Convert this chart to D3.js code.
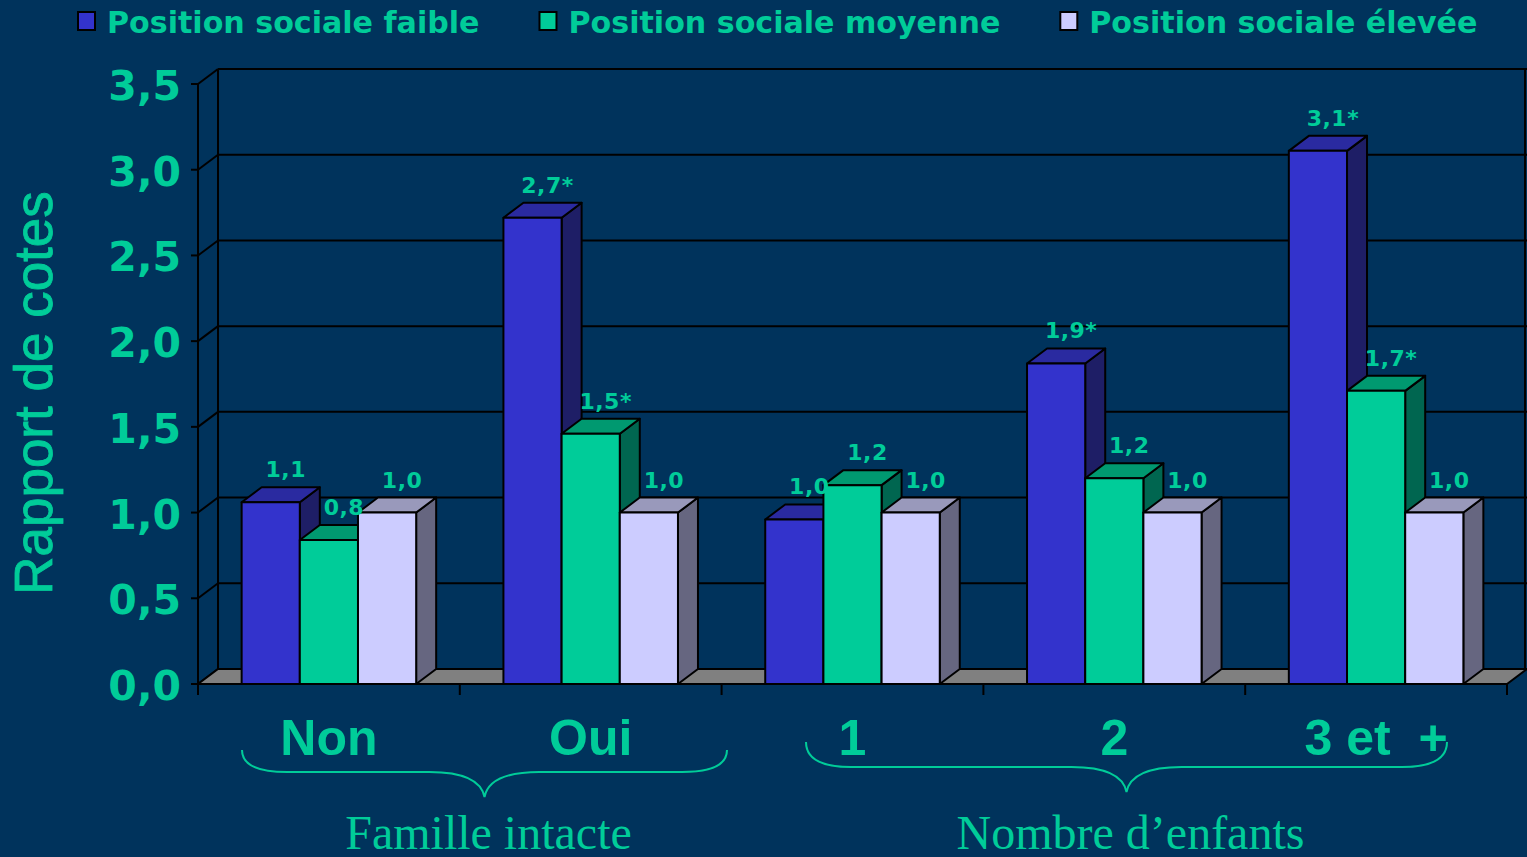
<!DOCTYPE html>
<html><head><meta charset="utf-8">
<script src="https://cdn.jsdelivr.net/npm/d3@7"></script>
<style>
html,body{margin:0;padding:0;background:#00335C;overflow:hidden}
svg{display:block}
</style></head>
<body>
<svg id="chart" width="1527" height="857"></svg>
<script>
// ---- data ----
const categories = ["Non", "Oui", "1", "2", "3 et +"];
const series = ["Position sociale faible", "Position sociale moyenne", "Position sociale élevée"];
const faible  = [1.06, 2.72, 0.96, 1.87, 3.11];
const moyenne = [0.84, 1.46, 1.16, 1.20, 1.71];
const elevee  = [1.00, 1.00, 1.00, 1.00, 1.00];
const labelsFaible  = ["1,1", "2,7*", "1,0", "1,9*", "3,1*"];
const labelsMoyenne = ["0,8", "1,5*", "1,2", "1,2", "1,7*"];
const labelsElevee  = ["1,0", "1,0", "1,0", "1,0", "1,0"];
const yTicks = [0, 0.5, 1, 1.5, 2, 2.5, 3, 3.5];
const groups = [
  {title: "Famille intacte", cats: ["Non", "Oui"]},
  {title: "Nombre d\u2019enfants", cats: ["1", "2", "3 et +"]}
];
const yTitle = "Rapport de cotes";

// ---- styles ----
const TEXT = "#00CC99";
const colors = [
  {front: "#3333CC", top: "#2A2AA0", side: "#1E1E66"},
  {front: "#00CC99", top: "#009970", side: "#006650"},
  {front: "#CCCCFF", top: "#9999BB", side: "#666680"}
];
const values = [faible, moyenne, elevee];
const labels = [labelsFaible, labelsMoyenne, labelsElevee];

const svg = d3.select("#chart");
const X0 = 198, X1 = 1507, DX = 20, DY = -15;
const y = d3.scaleLinear().domain([0, 3.5]).range([684, 84]);
const x = d3.scaleBand().domain(categories).range([X0, X1]).padding(0);
const xs = d3.scaleBand().domain(d3.range(series.length)).range([0, x.bandwidth()]).paddingInner(0).paddingOuter(0.75);

// back wall gridlines
const g = svg.append("g").attr("stroke", "#000").attr("stroke-width", 2).attr("fill", "none");
g.selectAll("line.grid").data(yTicks).join("line")
  .attr("x1", X0 + DX).attr("x2", X1 + DX)
  .attr("y1", d => y(d) + DY).attr("y2", d => y(d) + DY);
g.append("line").attr("x1", X0 + DX).attr("x2", X0 + DX).attr("y1", y(0) + DY).attr("y2", y(3.5) + DY);
g.append("line").attr("x1", X1 + DX - 2).attr("x2", X1 + DX - 2).attr("y1", y(0) + DY).attr("y2", y(3.5) + DY);
// left wall
g.append("line").attr("x1", X0).attr("x2", X0).attr("y1", y(0)).attr("y2", y(3.5));
g.selectAll("line.diag").data(yTicks).join("line")
  .attr("x1", X0).attr("x2", X0 + DX)
  .attr("y1", d => y(d)).attr("y2", d => y(d) + DY);
g.selectAll("line.tick").data(yTicks).join("line")
  .attr("x1", X0 - 7).attr("x2", X0)
  .attr("y1", d => y(d)).attr("y2", d => y(d));

// floor
svg.append("path")
  .attr("d", `M${X0},${y(0)}L${X1},${y(0)}L${X1 + DX},${y(0) + DY}L${X0 + DX},${y(0) + DY}Z`)
  .attr("fill", "#808080").attr("stroke", "#000").attr("stroke-width", 2);

// category ticks
svg.append("g").selectAll("line").data(d3.range(categories.length + 1)).join("line")
  .attr("x1", i => X0 + i * x.step()).attr("x2", i => X0 + i * x.step())
  .attr("y1", y(0)).attr("y2", y(0) + 11)
  .attr("stroke", "#000").attr("stroke-width", 2);

// bars
const bars = [];
categories.forEach((c, ci) => {
  series.forEach((s, si) => {
    bars.push({c, ci, si, v: values[si][ci], label: labels[si][ci]});
  });
});
const bg = svg.append("g").attr("stroke", "#000").attr("stroke-width", 2).attr("stroke-linejoin", "round");
bars.forEach(b => {
  const x0 = x(b.c) + xs(b.si), w = xs.bandwidth();
  const yt = y(b.v), yb = y(0);
  const gg = bg.append("g");
  gg.append("path").attr("fill", colors[b.si].side)
    .attr("d", `M${x0 + w},${yb}L${x0 + w + DX},${yb + DY}L${x0 + w + DX},${yt + DY}L${x0 + w},${yt}Z`);
  gg.append("path").attr("fill", colors[b.si].top)
    .attr("d", `M${x0},${yt}L${x0 + DX},${yt + DY}L${x0 + w + DX},${yt + DY}L${x0 + w},${yt}Z`);
  gg.append("rect").attr("fill", colors[b.si].front)
    .attr("x", x0).attr("y", yt).attr("width", w).attr("height", yb - yt);
});
svg.append("line").attr("x1", X0).attr("x2", X1).attr("y1", y(0)).attr("y2", y(0))
  .attr("stroke", "#000").attr("stroke-width", 2);

// data labels
svg.append("g").selectAll("text").data(bars).join("text")
  .attr("x", b => x(b.c) + xs(b.si) + xs.bandwidth() / 2 + 15)
  .attr("y", b => y(b.v) + DY - 10)
  .attr("text-anchor", "middle")
  .attr("font-family", "DejaVu Sans").attr("font-weight", "bold").attr("font-size", 22)
  .attr("letter-spacing", 0.5)
  .attr("fill", TEXT).text(b => b.label);

// y tick labels
svg.append("g").selectAll("text").data(yTicks).join("text")
  .attr("x", 181).attr("y", d => y(d) + 2)
  .attr("text-anchor", "end").attr("dominant-baseline", "central")
  .attr("font-family", "DejaVu Sans").attr("font-weight", "bold").attr("font-size", 41)
  .attr("fill", TEXT).text(d => d3.format(".1f")(d).replace(".", ","));

// y title
svg.append("text")
  .attr("transform", `translate(52,393) rotate(-90)`)
  .attr("text-anchor", "middle")
  .attr("font-family", "Liberation Sans").attr("font-size", 53)
  .attr("stroke", TEXT).attr("stroke-width", 0.8)
  .attr("fill", TEXT).text(yTitle);

// category labels
svg.append("g").selectAll("text").data(categories).join("text")
  .attr("x", d => x(d) + x.bandwidth() / 2).attr("y", 755)
  .attr("text-anchor", "middle")
  .attr("font-family", "Liberation Sans").attr("font-weight", "bold").attr("font-size", 50)
  .attr("fill", TEXT).attr("xml:space", "preserve").style("white-space", "pre")
  .text(d => d === "3 et +" ? "3 et  +" : d);

// braces + group titles
const braceGeom = [
  {x1: 242, x2: 727, yTop: 750, yMid: 772, yTip: 797},
  {x1: 806, x2: 1447, yTop: 742, yMid: 767, yTip: 792}
];
groups.forEach((gr, i) => {
  const b = braceGeom[i];
  const tip = (b.x1 + b.x2) / 2;
  const d = `M${b.x1},${b.yTop} Q${b.x1},${b.yMid} ${b.x1 + 45},${b.yMid} L${tip - 55},${b.yMid} ` +
            `Q${tip - 5},${b.yMid} ${tip},${b.yTip} Q${tip + 5},${b.yMid} ${tip + 55},${b.yMid} ` +
            `L${b.x2 - 45},${b.yMid} Q${b.x2},${b.yMid} ${b.x2},${b.yTop}`;
  svg.append("path").attr("d", d).attr("fill", "none").attr("stroke", TEXT).attr("stroke-width", 2);
  svg.append("text").attr("x", tip + 4).attr("y", 849).attr("text-anchor", "middle")
    .attr("font-family", "Liberation Serif").attr("font-size", 48)
    .attr("fill", TEXT).text(gr.title);
});

// legend
const leg = svg.append("g");
let lx = 78;
series.forEach((s, i) => {
  leg.append("rect").attr("x", lx).attr("y", 12).attr("width", 17).attr("height", 18)
    .attr("fill", colors[i].front).attr("stroke", "#000").attr("stroke-width", 2);
  const t = leg.append("text").attr("x", lx + 29).attr("y", 33)
    .attr("font-family", "DejaVu Sans").attr("font-weight", "bold").attr("font-size", 30.1)
    .attr("fill", TEXT).text(s);
  lx = lx + 29 + t.node().getComputedTextLength() + 60;
});
</script>
</body></html>
